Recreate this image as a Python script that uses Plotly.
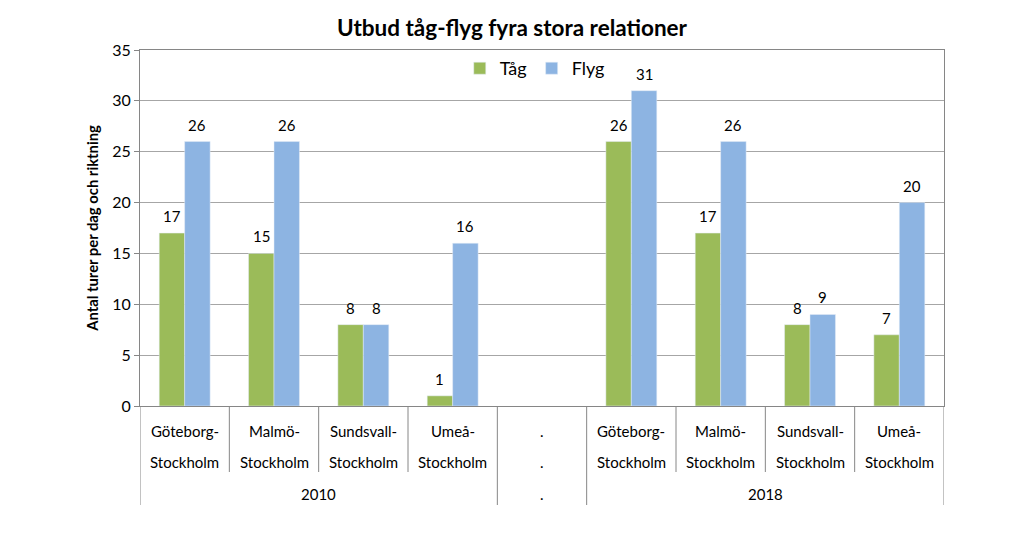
import plotly.graph_objects as go

# Data
years = ["2010", ".", "2018"]
route_top = ["Göteborg-", "Malmö-", "Sundsvall-", "Umeå-"]
route_bottom = ["Stockholm", "Stockholm", "Stockholm", "Stockholm"]
tag_2010 = [17, 15, 8, 1]
flyg_2010 = [26, 26, 8, 16]
tag_2018 = [26, 17, 8, 7]
flyg_2018 = [31, 26, 9, 20]
y_ticks = [0, 5, 10, 15, 20, 25, 30, 35]

GREEN = "#9BBB59"
BLUE = "#8DB4E2"
AXIS = "#868686"
FONT = "Lato"
BARGAP = 0.43

# 4 routes + a blank separator + 4 routes
tag = tag_2010 + [None] + tag_2018
flyg = flyg_2010 + [None] + flyg_2018
top_labels = route_top + ["."] + route_top
bottom_labels = route_bottom + ["."] + route_bottom
xs = list(range(len(tag)))

fig = go.Figure()
fig.add_trace(go.Bar(x=xs, y=tag, name="Tåg", marker_color=GREEN))
fig.add_trace(go.Bar(x=xs, y=flyg, name="Flyg", marker_color=BLUE))

# value labels above the bars (offset = half a bar width)
half = (1 - BARGAP) / 4
for series, off in [(tag, -half), (flyg, half)]:
    for i, v in zip(xs, series):
        if v is None:
            continue
        fig.add_annotation(x=i + off, y=v, xref="x", yref="y", text=str(v),
                           showarrow=False, yanchor="middle", yshift=17,
                           font=dict(size=15, family=FONT, color="black"))

# category labels (two rows) and year row
for i in xs:
    fig.add_annotation(x=i, y=0, xref="x", yref="paper", text=top_labels[i],
                       showarrow=False, yanchor="middle", yshift=-25,
                       font=dict(size=15, family=FONT))
    fig.add_annotation(x=i, y=0, xref="x", yref="paper", text=bottom_labels[i],
                       showarrow=False, yanchor="middle", yshift=-56,
                       font=dict(size=15, family=FONT))

group_centers = [1.5, 4, 6.5]
for c, yr in zip(group_centers, years):
    fig.add_annotation(x=c, y=0, xref="x", yref="paper", text=yr,
                       showarrow=False, yanchor="middle", yshift=-88,
                       font=dict(size=15, family=FONT))

# dividers under the axis
plot_h = 356
for b in [0.5, 1.5, 2.5, 5.5, 6.5, 7.5]:
    fig.add_shape(type="line", xref="x", yref="paper", x0=b, x1=b,
                  y0=0, y1=-66 / plot_h, line=dict(color=AXIS, width=1))
for b in [-0.5, 3.5, 4.5, 8.5]:
    fig.add_shape(type="line", xref="x", yref="paper", x0=b, x1=b,
                  y0=0, y1=-99 / plot_h, line=dict(color=AXIS, width=1))

# page body adds an 8px offset, margins compensate for it
fig.update_layout(
    width=1024, height=547,
    margin=dict(l=132, r=88, t=42, b=149),
    paper_bgcolor="white", plot_bgcolor="white",
    font=dict(family=FONT, color="black"),
    title=dict(text="<b>Utbud tåg-flyg fyra stora relationer</b>",
               x=(512 - 8) / 1024, xanchor="center", y=1 - 20 / 547, yanchor="middle",
               font=dict(size=22.5, family=FONT, color="black")),
    barmode="group", bargap=BARGAP, bargroupgap=0,
    legend=dict(orientation="h", x=0.491, xanchor="center", y=1.0, yanchor="top",
                font=dict(size=18, family=FONT), bgcolor="rgba(0,0,0,0)",
                itemwidth=30, traceorder="normal"),
    showlegend=True,
)

fig.update_xaxes(range=[-0.5, 8.5], showticklabels=False, showgrid=False,
                 zeroline=False, showline=True, linecolor=AXIS, linewidth=1,
                 mirror=True, ticks="")
fig.update_yaxes(range=[0, 35], tickvals=y_ticks, showgrid=True, gridcolor="#A6A6A6",
                 gridwidth=1, zeroline=False, showline=True, linecolor=AXIS,
                 linewidth=1, mirror=True, ticks="outside", ticklen=5, tickcolor=AXIS,
                 tickfont=dict(size=16, family=FONT),
                 title=dict(text="<b>Antal turer per dag och riktning</b>",
                            font=dict(size=14.8, family=FONT), standoff=10))

fig.write_html("out.html")
